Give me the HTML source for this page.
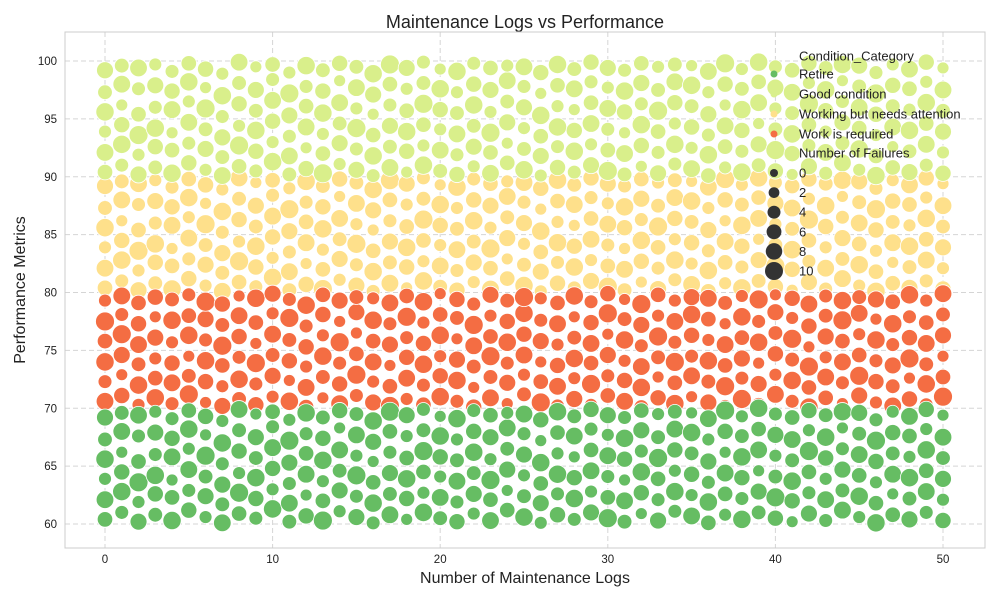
<!DOCTYPE html>
<html><head><meta charset="utf-8"><style>
body{margin:0;background:#fff;font-family:"Liberation Sans",sans-serif}
</style></head><body>
<svg id="chart" width="1000" height="600" xmlns="http://www.w3.org/2000/svg" font-family="Liberation Sans, sans-serif">
<rect width="1000" height="600" fill="#fff"/>
<text x="525" y="28" text-anchor="middle" font-size="18" fill="#222">Maintenance Logs vs Performance</text>
<text x="525" y="583" text-anchor="middle" font-size="16" fill="#222">Number of Maintenance Logs</text>
<text x="25" y="290" text-anchor="middle" font-size="16" fill="#222" transform="rotate(-90 25 290)">Performance Metrics</text>
<g id="grid"></g><g id="marks"></g><g id="ticks"></g><g id="legend"></g>
<rect x="65" y="32" width="920" height="516" fill="none" stroke="#ccc" stroke-width="1"/>
</svg>
<script>
const categories=["Retire","Good condition","Working but needs attention","Work is required"];
const colors=["#66bd63","#d9ef8b","#fee08b","#f46d43"];
const xTicks=[0,10,20,30,40,50];
const yTicks=[60,65,70,75,80,85,90,95,100];
const sizeLegend=[0,2,4,6,8,10];
// per x (0..50) column, "y:failures" points
const retirePts=[
"60.4:5 62.1:8 63.9:2 65.6:9 67.3:4 69.2:7","61.0:3 62.8:9 64.5:6 66.2:1 68.0:8 69.6:4","60.2:7 61.9:2 63.6:10 65.4:5 67.6:3 69.4:8","60.8:4 62.6:6 64.2:9 66.0:3 67.9:7 69.7:2","60.3:9 62.3:5 63.8:1 65.8:8 67.4:6 69.1:3",
"61.2:6 62.9:3 64.7:8 66.5:2 68.2:9 69.8:5","60.6:2 62.4:7 64.1:4 65.9:10 67.7:1 69.3:6","60.1:8 61.7:4 63.4:7 65.2:3 67.0:9 68.9:2","60.9:5 62.7:10 64.4:2 66.3:6 68.1:4 69.9:8","60.5:3 62.2:6 64.0:9 65.7:4 67.5:7 69.5:1",
"61.3:9 63.0:2 64.8:6 66.6:8 68.4:3 69.7:5","60.2:4 61.8:8 63.5:3 65.3:7 67.2:10 69.0:2","60.7:6 62.5:1 64.3:8 66.1:5 67.8:3 69.6:9","60.3:10 62.0:5 63.7:2 65.5:9 67.4:6 69.2:4","61.1:2 62.9:7 64.6:4 66.4:8 68.3:1 69.8:6",
"60.6:7 62.4:3 64.2:10 65.9:2 67.7:8 69.5:4","60.1:3 61.8:9 63.6:5 65.4:1 67.1:7 68.9:9","60.8:8 62.6:4 64.4:7 66.2:3 68.0:5 69.7:10","60.4:1 62.2:6 63.9:9 65.7:5 67.6:2 69.4:7","61.0:9 62.7:2 64.5:5 66.3:10 68.1:4 69.9:3",
"60.5:4 62.3:8 64.1:2 65.8:6 67.6:9 69.3:1","60.2:6 61.9:3 63.7:8 65.5:4 67.3:2 69.1:9","60.9:2 62.6:7 64.4:4 66.2:9 68.0:6 69.8:3","60.3:8 62.1:5 63.8:10 65.6:2 67.5:7 69.4:5","61.2:5 62.9:1 64.7:7 66.5:4 68.3:8 69.6:2",
"60.6:9 62.4:4 64.2:2 66.0:7 67.8:3 69.5:8","60.1:2 61.8:7 63.5:5 65.3:9 67.2:1 69.0:6","60.8:6 62.6:3 64.3:9 66.1:2 67.9:5 69.7:9","60.4:3 62.2:9 64.0:6 65.8:1 67.6:8 69.3:4","61.0:7 62.8:2 64.6:8 66.4:5 68.2:3 69.9:6",
"60.5:10 62.3:5 64.1:3 65.9:8 67.7:2 69.4:7","60.2:4 62.0:8 63.8:1 65.6:6 67.4:9 69.2:3","60.9:1 62.7:6 64.5:9 66.3:3 68.1:7 69.8:5","60.3:7 62.1:3 63.9:5 65.7:10 67.5:4 69.5:2","61.1:3 62.8:9 64.6:2 66.4:6 68.2:8 69.7:4",
"60.7:8 62.5:2 64.3:6 66.1:4 67.9:9 69.6:1","60.1:5 61.9:9 63.6:3 65.4:7 67.3:2 69.1:8","60.8:2 62.6:5 64.4:8 66.2:1 68.0:6 69.8:10","60.4:9 62.2:3 64.0:6 65.8:9 67.6:4 69.3:2","61.0:4 62.8:7 64.6:1 66.4:8 68.2:5 70.0:9",
"60.5:6 62.3:10 64.1:4 65.9:2 67.7:7 69.5:3","60.2:1 62.0:6 63.7:9 65.5:4 67.3:8 69.2:5","60.9:7 62.7:3 64.5:5 66.3:10 68.1:2 69.8:6","60.3:3 62.1:8 63.9:2 65.7:6 67.5:9 69.4:4","61.2:8 62.9:4 64.7:7 66.5:3 68.3:1 69.7:9",
"60.6:2 62.4:9 64.2:5 66.0:8 67.8:4 69.6:7","60.1:9 61.8:5 63.6:2 65.4:6 67.2:10 69.0:3","60.8:5 62.6:1 64.3:8 66.1:4 67.9:6 69.7:2","60.4:7 62.2:4 64.0:9 65.8:2 67.6:5 69.3:8","61.0:3 62.8:8 64.6:5 66.4:9 68.2:2 69.9:6",
"60.3:6 62.1:2 63.9:7 65.7:4 67.5:8 69.4:1"];
const goodPts=[
"90.4:5 92.1:8 93.9:2 95.6:9 97.3:4 99.2:7","91.0:3 92.8:9 94.5:6 96.2:1 98.0:8 99.6:4","90.2:7 91.9:2 93.6:10 95.4:5 97.6:3 99.4:8","90.8:4 92.6:6 94.2:9 96.0:3 97.9:7 99.7:2","90.3:9 92.3:5 93.8:1 95.8:8 97.4:6 99.1:3",
"91.2:6 92.9:3 94.7:8 96.5:2 98.2:9 99.8:5","90.6:2 92.4:7 94.1:4 95.9:10 97.7:1 99.3:6","90.1:8 91.7:4 93.4:7 95.2:3 97.0:9 98.9:2","90.9:5 92.7:10 94.4:2 96.3:6 98.1:4 99.9:8","90.5:3 92.2:6 94.0:9 95.7:4 97.5:7 99.5:1",
"91.3:9 93.0:2 94.8:6 96.6:8 98.4:3 99.7:5","90.2:4 91.8:8 93.5:3 95.3:7 97.2:10 99.0:2","90.7:6 92.5:1 94.3:8 96.1:5 97.8:3 99.6:9","90.3:10 92.0:5 93.7:2 95.5:9 97.4:6 99.2:4","91.1:2 92.9:7 94.6:4 96.4:8 98.3:1 99.8:6",
"90.6:7 92.4:3 94.2:10 95.9:2 97.7:8 99.5:4","90.1:3 91.8:9 93.6:5 95.4:1 97.1:7 98.9:9","90.8:8 92.6:4 94.4:7 96.2:3 98.0:5 99.7:10","90.4:1 92.2:6 93.9:9 95.7:5 97.6:2 99.4:7","91.0:9 92.7:2 94.5:5 96.3:10 98.1:4 99.9:3",
"90.5:4 92.3:8 94.1:2 95.8:6 97.6:9 99.3:1","90.2:6 91.9:3 93.7:8 95.5:4 97.3:2 99.1:9","90.9:2 92.6:7 94.4:4 96.2:9 98.0:6 99.8:3","90.3:8 92.1:5 93.8:10 95.6:2 97.5:7 99.4:5","91.2:5 92.9:1 94.7:7 96.5:4 98.3:8 99.6:2",
"90.6:9 92.4:4 94.2:2 96.0:7 97.8:3 99.5:8","90.1:2 91.8:7 93.5:5 95.3:9 97.2:1 99.0:6","90.8:6 92.6:3 94.3:9 96.1:2 97.9:5 99.7:9","90.4:3 92.2:9 94.0:6 95.8:1 97.6:8 99.3:4","91.0:7 92.8:2 94.6:8 96.4:5 98.2:3 99.9:6",
"90.5:10 92.3:5 94.1:3 95.9:8 97.7:2 99.4:7","90.2:4 92.0:8 93.8:1 95.6:6 97.4:9 99.2:3","90.9:1 92.7:6 94.5:9 96.3:3 98.1:7 99.8:5","90.3:7 92.1:3 93.9:5 95.7:10 97.5:4 99.5:2","91.1:3 92.8:9 94.6:2 96.4:6 98.2:8 99.7:4",
"90.7:8 92.5:2 94.3:6 96.1:4 97.9:9 99.6:1","90.1:5 91.9:9 93.6:3 95.4:7 97.3:2 99.1:8","90.8:2 92.6:5 94.4:8 96.2:1 98.0:6 99.8:10","90.4:9 92.2:3 94.0:6 95.8:9 97.6:4 99.3:2","91.0:4 92.8:7 94.6:1 96.4:8 98.2:5 99.9:9",
"90.5:6 92.3:10 94.1:4 95.9:2 97.7:7 99.5:3","90.2:1 92.0:6 93.7:9 95.5:4 97.3:8 99.2:5","90.9:7 92.7:3 94.5:5 96.3:10 98.1:2 99.8:6","90.3:3 92.1:8 93.9:2 95.7:6 97.5:9 99.4:4","91.2:8 92.9:4 94.7:7 96.5:3 98.3:1 99.7:9",
"90.6:2 92.4:9 94.2:5 96.0:8 97.8:4 99.6:7","90.1:9 91.8:5 93.6:2 95.4:6 97.2:10 99.0:3","90.8:5 92.6:1 94.3:8 96.1:4 97.9:6 99.7:2","90.4:7 92.2:4 94.0:9 95.8:2 97.6:5 99.3:8","91.0:3 92.8:8 94.6:5 96.4:9 98.2:2 99.9:6",
"90.3:6 92.1:2 93.9:7 95.7:4 97.5:8 99.4:1"];
const attentionPts=[
"80.4:5 82.1:8 83.9:2 85.6:9 87.3:4 89.2:7","81.0:3 82.8:9 84.5:6 86.2:1 88.0:8 89.6:4","80.2:7 81.9:2 83.6:10 85.4:5 87.6:3 89.4:8","80.8:4 82.6:6 84.2:9 86.0:3 87.9:7 89.7:2","80.3:9 82.3:5 83.8:1 85.8:8 87.4:6 89.1:3",
"81.2:6 82.9:3 84.7:8 86.5:2 88.2:9 89.8:5","80.6:2 82.4:7 84.1:4 85.9:10 87.7:1 89.3:6","80.1:8 81.7:4 83.4:7 85.2:3 87.0:9 88.9:2","80.9:5 82.7:10 84.4:2 86.3:6 88.1:4 89.9:8","80.5:3 82.2:6 84.0:9 85.7:4 87.5:7 89.5:1",
"81.3:9 83.0:2 84.8:6 86.6:8 88.4:3 89.7:5","80.2:4 81.8:8 83.5:3 85.3:7 87.2:10 89.0:2","80.7:6 82.5:1 84.3:8 86.1:5 87.8:3 89.6:9","80.3:10 82.0:5 83.7:2 85.5:9 87.4:6 89.2:4","81.1:2 82.9:7 84.6:4 86.4:8 88.3:1 89.8:6",
"80.6:7 82.4:3 84.2:10 85.9:2 87.7:8 89.5:4","80.1:3 81.8:9 83.6:5 85.4:1 87.1:7 88.9:9","80.8:8 82.6:4 84.4:7 86.2:3 88.0:5 89.7:10","80.4:1 82.2:6 83.9:9 85.7:5 87.6:2 89.4:7","81.0:9 82.7:2 84.5:5 86.3:10 88.1:4 89.9:3",
"80.5:4 82.3:8 84.1:2 85.8:6 87.6:9 89.3:1","80.2:6 81.9:3 83.7:8 85.5:4 87.3:2 89.1:9","80.9:2 82.6:7 84.4:4 86.2:9 88.0:6 89.8:3","80.3:8 82.1:5 83.8:10 85.6:2 87.5:7 89.4:5","81.2:5 82.9:1 84.7:7 86.5:4 88.3:8 89.6:2",
"80.6:9 82.4:4 84.2:2 86.0:7 87.8:3 89.5:8","80.1:2 81.8:7 83.5:5 85.3:9 87.2:1 89.0:6","80.8:6 82.6:3 84.3:9 86.1:2 87.9:5 89.7:9","80.4:3 82.2:9 84.0:6 85.8:1 87.6:8 89.3:4","81.0:7 82.8:2 84.6:8 86.4:5 88.2:3 89.9:6",
"80.5:10 82.3:5 84.1:3 85.9:8 87.7:2 89.4:7","80.2:4 82.0:8 83.8:1 85.6:6 87.4:9 89.2:3","80.9:1 82.7:6 84.5:9 86.3:3 88.1:7 89.8:5","80.3:7 82.1:3 83.9:5 85.7:10 87.5:4 89.5:2","81.1:3 82.8:9 84.6:2 86.4:6 88.2:8 89.7:4",
"80.7:8 82.5:2 84.3:6 86.1:4 87.9:9 89.6:1","80.1:5 81.9:9 83.6:3 85.4:7 87.3:2 89.1:8","80.8:2 82.6:5 84.4:8 86.2:1 88.0:6 89.8:10","80.4:9 82.2:3 84.0:6 85.8:9 87.6:4 89.3:2","81.0:4 82.8:7 84.6:1 86.4:8 88.2:5 89.9:9",
"80.5:6 82.3:10 84.1:4 85.9:2 87.7:7 89.5:3","80.2:1 82.0:6 83.7:9 85.5:4 87.3:8 89.2:5","80.9:7 82.7:3 84.5:5 86.3:10 88.1:2 89.8:6","80.3:3 82.1:8 83.9:2 85.7:6 87.5:9 89.4:4","81.2:8 82.9:4 84.7:7 86.5:3 88.3:1 89.7:9",
"80.6:2 82.4:9 84.2:5 86.0:8 87.8:4 89.6:7","80.1:9 81.8:5 83.6:2 85.4:6 87.2:10 89.0:3","80.8:5 82.6:1 84.3:8 86.1:4 87.9:6 89.7:2","80.4:7 82.2:4 84.0:9 85.8:2 87.6:5 89.3:8","81.0:3 82.8:8 84.6:5 86.4:9 88.2:2 89.9:6",
"80.3:6 82.1:2 83.9:7 85.7:4 87.5:8 89.4:1"];
const requiredPts=[
"70.6:8 72.3:3 74.0:9 75.8:5 77.5:10 79.3:2","71.1:6 72.9:1 74.6:7 76.4:10 78.1:3 79.7:8","70.3:2 72.0:9 73.8:4 75.5:8 77.3:6 79.1:5","70.9:9 72.6:5 74.3:2 76.1:7 77.9:1 79.6:6","70.4:3 72.2:8 73.9:6 75.7:2 77.6:9 79.4:4",
"71.2:10 72.8:4 74.5:1 76.3:9 78.0:5 79.8:3","70.5:1 72.3:6 74.1:9 75.9:3 77.7:7 79.2:10","70.2:7 71.9:2 73.7:5 75.4:10 77.2:4 79.0:6","70.8:4 72.5:9 74.4:3 76.2:6 78.0:8 79.7:1","70.3:6 72.1:3 73.9:10 75.6:1 77.4:5 79.5:9",
"71.0:2 72.8:7 74.6:4 76.4:8 78.2:2 79.9:7","70.6:9 72.4:1 74.1:6 75.9:4 77.8:10 79.4:3","70.1:5 71.8:8 73.6:2 75.3:6 77.1:3 78.9:9","70.9:1 72.7:4 74.5:9 76.3:2 78.1:6 79.8:5","70.4:8 72.1:6 73.9:3 75.7:10 77.5:1 79.3:7",
"71.1:3 72.9:10 74.7:5 76.5:1 78.3:7 79.6:4","70.5:7 72.3:2 74.0:8 75.8:5 77.6:9 79.5:2","70.2:10 71.9:5 73.7:1 75.5:7 77.3:3 79.1:8","70.8:2 72.6:8 74.4:6 76.1:3 77.9:10 79.7:5","70.3:5 72.0:3 73.8:9 75.6:6 77.4:2 79.2:9",
"71.0:9 72.8:6 74.5:2 76.3:9 78.1:5 79.9:1","70.6:3 72.4:9 74.2:7 76.0:1 77.8:4 79.4:6","70.1:6 71.8:1 73.6:4 75.4:8 77.2:10 79.0:3","70.9:8 72.7:4 74.5:10 76.2:5 78.0:2 79.8:7","70.4:1 72.2:7 73.9:3 75.7:9 77.5:6 79.3:4",
"71.2:4 72.9:2 74.6:8 76.4:6 78.2:9 79.6:10","70.5:10 72.3:5 74.0:1 75.8:7 77.6:3 79.5:2","70.2:3 71.9:8 73.7:6 75.5:2 77.3:8 79.1:5","70.8:7 72.6:2 74.3:9 76.1:4 77.9:1 79.7:9","70.3:2 72.1:10 73.9:5 75.6:8 77.4:6 79.2:3",
"71.1:5 72.8:3 74.6:7 76.4:1 78.2:10 79.9:6","70.6:8 72.4:6 74.1:2 75.9:9 77.7:4 79.4:1","70.1:4 71.8:9 73.6:8 75.4:3 77.2:7 79.0:10","70.9:6 72.7:1 74.4:4 76.2:10 78.0:2 79.8:5","70.4:9 72.2:5 74.0:10 75.7:3 77.5:8 79.3:2",
"71.0:1 72.8:8 74.5:3 76.3:6 78.1:9 79.6:7","70.5:7 72.3:4 74.1:9 75.9:2 77.7:5 79.5:8","70.2:2 71.9:10 73.7:5 75.5:8 77.3:1 79.1:4","70.8:10 72.6:3 74.3:7 76.1:5 77.9:9 79.7:2","70.3:4 72.1:7 73.9:1 75.7:9 77.5:3 79.4:10",
"71.2:8 72.9:2 74.7:6 76.5:4 78.3:7 79.8:1","70.6:3 72.4:9 74.2:4 76.0:10 77.8:2 79.5:6","70.1:9 71.8:5 73.6:10 75.3:1 77.1:6 79.0:8","70.9:5 72.7:8 74.4:2 76.2:7 78.0:4 79.7:3","70.4:1 72.2:3 74.0:8 75.8:5 77.6:10 79.3:9",
"71.1:7 72.8:10 74.6:5 76.4:2 78.2:8 79.6:4","70.5:2 72.3:6 74.1:3 75.9:9 77.7:1 79.4:7","70.2:8 71.9:4 73.7:7 75.5:3 77.3:9 79.2:5","70.8:6 72.6:1 74.3:10 76.1:6 77.9:3 79.8:9","70.3:3 72.1:9 73.8:4 75.6:8 77.4:5 79.3:2",
"71.0:10 72.7:5 74.5:1 76.3:7 78.1:4 79.9:8"];
const seriesPts=[attentionPts,goodPts,requiredPts,retirePts];
const seriesCat=[2,1,3,0];
const NS="http://www.w3.org/2000/svg";
function xS(v){return 105+(v-0)*(943-105)/50;}
function yS(v){return 524-(v-60)*(524-61)/40;}
function rS(s){return Math.sqrt(30+6*s);}
function mk(tag,attrs,parent){const e=document.createElementNS(NS,tag);for(const k in attrs)e.setAttribute(k,attrs[k]);parent.appendChild(e);return e;}
const grid=document.getElementById('grid'),ticks=document.getElementById('ticks'),marks=document.getElementById('marks'),legend=document.getElementById('legend');
xTicks.forEach(t=>{const l=mk('line',{x1:xS(t),x2:xS(t),y1:32,y2:548,stroke:'#d5d5d5','stroke-dasharray':'5,3'},grid);


const tx=mk('text',{x:xS(t),y:563,'text-anchor':'middle','font-size':11.5,fill:'#222'},ticks);tx.textContent=t;

});
yTicks.forEach(t=>{const l=mk('line',{x1:65,x2:985,y1:yS(t),y2:yS(t),stroke:'#d5d5d5','stroke-dasharray':'5,3'},grid);


const tx=mk('text',{x:57,y:yS(t)+4,'text-anchor':'end','font-size':11.5,fill:'#222'},ticks);tx.textContent=t;

});
seriesPts.forEach((arr,si)=>{const c=colors[seriesCat[si]];
arr.forEach((col,xi)=>{col.split(' ').forEach(p=>{const [y,s]=p.split(':').map(Number);
const ci=mk('circle',{cx:xS(xi),cy:yS(y),r:rS(s),fill:c,stroke:'#fff','stroke-width':0.8},marks);

});});});
function ltext(txt,y){const t=mk('text',{x:799,y:y+4.5,'font-size':13,fill:'#222'},legend);t.textContent=txt;

}
ltext('Condition_Category',56);
categories.forEach((c,i)=>{const y=74+i*20;const d=mk('circle',{cx:774,cy:y,r:3.5,fill:colors[i]},legend);


ltext(c,y);});
ltext('Number of Failures',153);
function lr(s){return Math.sqrt(16+6.5*s);}
sizeLegend.forEach((s,i)=>{const y=173+i*19.6;const d=mk('circle',{cx:774,cy:y,r:lr(s),fill:'#333'},legend);


ltext(String(s),y);});
</script>
</body></html>
